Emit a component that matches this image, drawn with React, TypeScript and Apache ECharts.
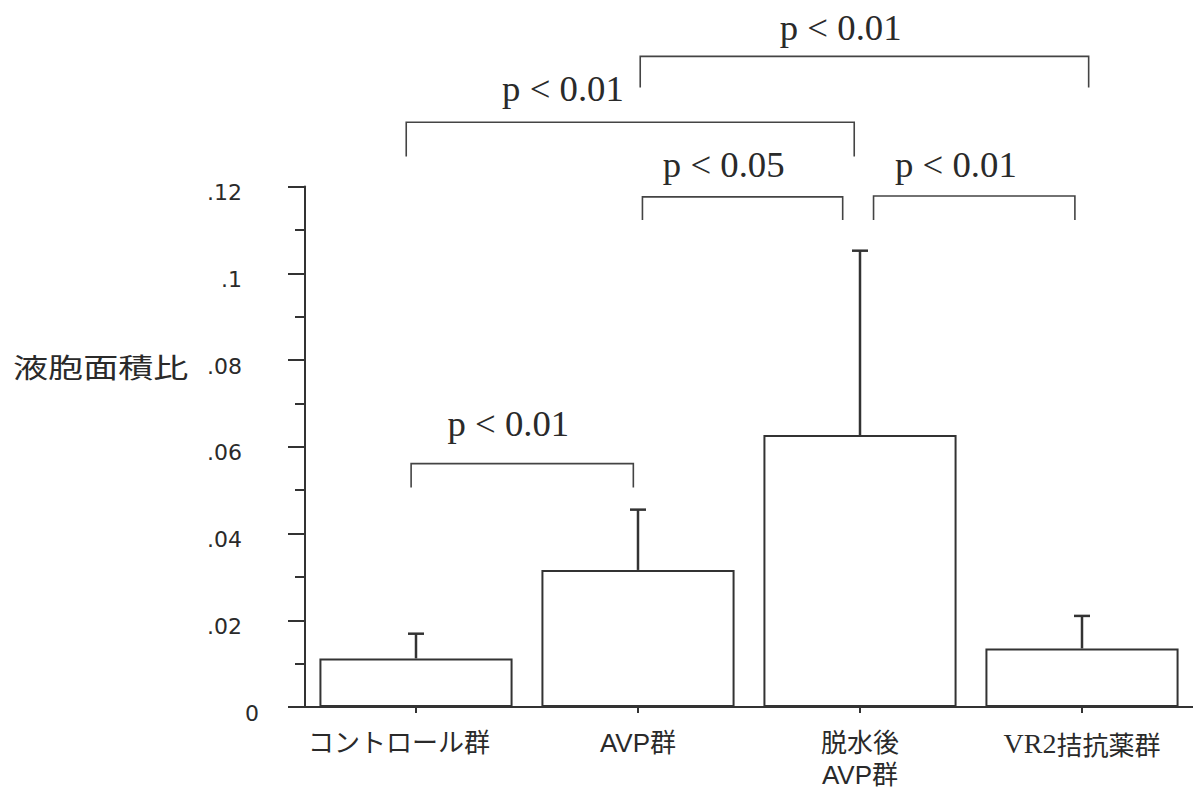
import React, { useEffect, useRef } from 'react';
import * as echarts from 'echarts';

// ---- data ----
const categories = ['コントロール群', 'AVP群', '脱水後\nAVP群', 'VR2拮抗薬群'];
const means = [0.0112, 0.0316, 0.0627, 0.0135];
const upperErrors = [0.0169, 0.0455, 0.1052, 0.021];
const yTickLabels = ['0', '.02', '.04', '.06', '.08', '.1', '.12'];
const yAxisTitle = '液胞面積比';

// significance brackets (x in category units, y in data units)
const pLabels = ['p < 0.01', 'p < 0.01', 'p < 0.05', 'p < 0.01', 'p < 0.01'];
const bracketStart = [1.01, -0.044, 1.02, 2.061, -0.022];
const bracketEnd = [3.03, 1.974, 1.922, 2.968, 0.979];
const bracketTop = [0.15, 0.1348, 0.1176, 0.1178, 0.0561];
const bracketLeg = [0.1428, 0.1269, 0.1123, 0.1123, 0.0506];
const labelX = [1.913, 0.662, 1.386, 2.432, 0.416];
const labelY = [0.1565, 0.1423, 0.125, 0.125, 0.0652];

const INK = '#2a2a2a';
const LINE = '#333';

export default function App() {
  const ref = useRef<HTMLDivElement>(null);

  useEffect(() => {
    if (!ref.current) return;
    const chart = echarts.init(ref.current, undefined, { renderer: 'svg' });

    const errorData = means.map((m, i) => [i, m, upperErrors[i]]);
    const bracketData = pLabels.map((_, i) => [
      bracketStart[i], bracketEnd[i], bracketTop[i], bracketLeg[i], labelX[i], labelY[i],
    ]);

    chart.setOption({
      animation: false,
      backgroundColor: '#fff',
      grid: { left: 305, top: 186.5, width: 895, height: 524.5, containLabel: false },
      xAxis: [
        {
          type: 'category',
          data: categories,
          boundaryGap: true,
          axisLine: { show: true, onZero: false, lineStyle: { color: LINE, width: 2 } },
          axisTick: { show: true, alignWithLabel: true, length: 6, lineStyle: { color: LINE, width: 2 } },
          splitLine: { show: false },
          axisLabel: {
            interval: 0,
            margin: 20,
            color: INK,
            fontSize: 26,
            lineHeight: 32,
            fontFamily: '"Liberation Sans", "Noto Sans CJK JP", sans-serif',
            formatter: (v: string, i: number) => {
              if (i === 0) return `{c|${v}}`;
              if (v.startsWith('VR2')) return `{s|VR2}{j|${v.slice(3)}}`;
              return v;
            },
            rich: {
              c: {
                fontSize: 26,
                color: INK,
                fontFamily: '"Liberation Sans", "Noto Sans CJK JP", sans-serif',
                padding: [0, 34, 0, 0],
              },
              s: { fontSize: 28, color: INK, fontFamily: '"Liberation Serif", serif' },
              j: { fontSize: 26, color: INK, fontFamily: '"Noto Sans CJK JP", sans-serif' },
            },
          },
        },
        { type: 'value', min: -0.5, max: 3.5, show: false, axisLine: { onZero: false } },
      ],
      yAxis: {
        type: 'value',
        min: 0,
        max: 0.12,
        interval: 0.02,
        axisLine: { show: true, onZero: false, lineStyle: { color: LINE, width: 2 } },
        axisTick: { show: true, length: 17, lineStyle: { color: LINE, width: 2 } },
        minorTick: { show: true, splitNumber: 2, length: 10, lineStyle: { color: LINE, width: 2 } },
        splitLine: { show: false },
        minorSplitLine: { show: false },
        axisLabel: {
          margin: 46,
          formatter: (v: number) => {
            const i = Math.round(v / 0.02);
            const t = yTickLabels[i];
            return i === 0 ? `{z|${t}}` : `{n|${t}}`;
          },
          rich: {
            z: { fontFamily: '"DejaVu Sans", sans-serif', fontSize: 22, color: INK, padding: [12, 0, 0, 0] },
            n: { fontFamily: '"DejaVu Sans", sans-serif', fontSize: 22, color: INK, padding: [12, 17, 0, 0] },
          },
        },
      },
      graphic: [
        {
          type: 'text',
          x: 13,
          y: 366,
          scaleX: 1.3,
          style: {
            text: yAxisTitle,
            fontSize: 27,
            fontFamily: '"Noto Sans CJK JP", sans-serif',
            fill: INK,
            align: 'left',
            verticalAlign: 'middle',
          },
        },
      ],
      series: [
        {
          type: 'bar',
          data: means,
          barWidth: '87%',
          itemStyle: { color: '#fff', borderColor: LINE, borderWidth: 2 },
          z: 2,
        },
        {
          type: 'custom',
          xAxisIndex: 0,
          data: errorData,
          encode: { x: 0, y: [1, 2] },
          z: 3,
          clip: false,
          renderItem: (params: any, api: any) => {
            const x = api.value(0);
            const lo = api.coord([x, api.value(1)]);
            const hi = api.coord([x, api.value(2)]);
            const st = { stroke: LINE, lineWidth: 2.5 };
            return {
              type: 'group',
              children: [
                { type: 'line', shape: { x1: lo[0], y1: lo[1], x2: hi[0], y2: hi[1] }, style: st },
                { type: 'line', shape: { x1: hi[0] - 8, y1: hi[1], x2: hi[0] + 8, y2: hi[1] }, style: st },
              ],
            };
          },
        },
        {
          type: 'custom',
          xAxisIndex: 1,
          data: bracketData,
          encode: { x: [0, 1], y: [2, 3] },
          z: 4,
          clip: false,
          renderItem: (params: any, api: any) => {
            const a = api.coord([api.value(0), api.value(2)]);
            const b = api.coord([api.value(1), api.value(2)]);
            const aLeg = api.coord([api.value(0), api.value(3)]);
            const bLeg = api.coord([api.value(1), api.value(3)]);
            const t = api.coord([api.value(4), api.value(5)]);
            const st = { stroke: '#444', lineWidth: 1.6, fill: 'none' };
            return {
              type: 'group',
              children: [
                {
                  type: 'polyline',
                  shape: { points: [[aLeg[0], aLeg[1]], [a[0], a[1]], [b[0], b[1]], [bLeg[0], bLeg[1]]] },
                  style: st,
                },
                {
                  type: 'text',
                  x: t[0],
                  y: t[1],
                  scaleX: 1.05,
                  style: {
                    text: pLabels[params.dataIndex],
                    fontSize: 35,
                    fontFamily: '"Liberation Serif", "Times New Roman", serif',
                    fill: INK,
                    align: 'center',
                    verticalAlign: 'middle',
                  },
                },
              ],
            };
          },
        },
      ],
    });

    return () => chart.dispose();
  }, []);

  return (
    <div
      ref={ref}
      style={{ position: 'fixed', left: 0, top: 0, width: 1193, height: 791, background: '#fff' }}
    />
  );
}
